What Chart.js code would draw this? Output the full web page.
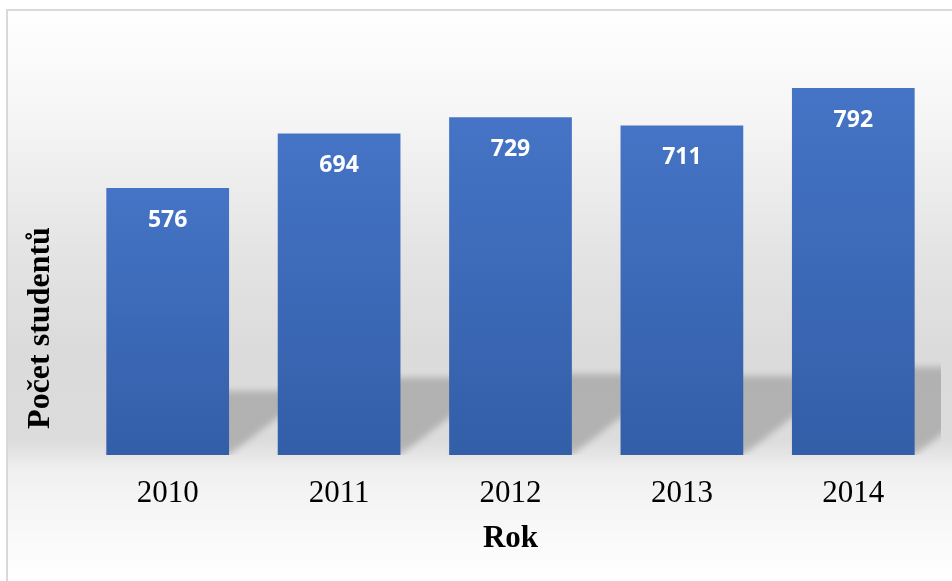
<!DOCTYPE html>
<html><head><meta charset="utf-8">
<script src="https://cdn.jsdelivr.net/npm/chart.js@4/dist/chart.umd.min.js"></script>
<style>html,body{margin:0;padding:0;background:#fff;overflow:hidden}</style>
</head><body>
<canvas id="c" width="952" height="581"></canvas>
<script>
const categories = ['2010', '2011', '2012', '2013', '2014'];
const students = [576, 694, 729, 711, 792];
const xAxisTitle = 'Rok';
const yAxisTitle = 'Počet studentů';
const yRange = [0, 900];

const bgPlugin = {
  id: 'bg',
  beforeDraw(chart) {
    const ctx = chart.ctx;
    ctx.save();
    const g = ctx.createLinearGradient(0, 10, 0, 581);
    const s = (y) => (y - 10) / 571;
    g.addColorStop(0, '#ffffff');
    g.addColorStop(s(120), '#f5f5f5');
    g.addColorStop(s(250), '#e4e4e4');
    g.addColorStop(s(350), '#dbdbdb');
    g.addColorStop(s(440), '#dcdcdc');
    g.addColorStop(s(456), '#e6e6e6');
    g.addColorStop(s(470), '#f0f0f0');
    g.addColorStop(s(520), '#f7f7f7');
    g.addColorStop(1, '#ffffff');
    ctx.fillStyle = g;
    ctx.fillRect(7, 10, 945, 571);
    ctx.fillStyle = '#d9d9d9';
    ctx.fillRect(6, 9, 946, 2);
    ctx.fillRect(6, 9, 2, 572);
    ctx.restore();
  }
};

const shadowPlugin = {
  id: 'barShadow',
  beforeDatasetsDraw(chart) {
    const ctx = chart.ctx;
    const a = chart.chartArea;
    const meta = chart.getDatasetMeta(0);
    ctx.save();
    ctx.beginPath();
    ctx.rect(a.left - 20, 0, a.right - a.left + 22, a.bottom);
    ctx.clip();
    ctx.filter = 'blur(3px)';
    ctx.fillStyle = 'rgba(0,0,0,0.19)';
    meta.data.forEach(bar => {
      const L = bar.x - bar.width / 2, R = bar.x + bar.width / 2;
      const base = bar.base, h = base - bar.y;
      const hs = 0.24 * h, dx = 1.3 * hs;
      ctx.beginPath();
      ctx.moveTo(L, base);
      ctx.lineTo(R, base);
      ctx.lineTo(R + dx, base - hs);
      ctx.lineTo(L + dx, base - hs);
      ctx.closePath();
      ctx.fill();
    });
    ctx.restore();
  }
};

const labelPlugin = {
  id: 'valueLabels',
  afterDatasetsDraw(chart) {
    const ctx = chart.ctx;
    const meta = chart.getDatasetMeta(0);
    ctx.save();
    ctx.fillStyle = '#ffffff';
    ctx.font = 'bold 23px "Open Sans"';
    ctx.textAlign = 'center';
    ctx.textBaseline = 'middle';
    meta.data.forEach((bar, i) => {
      ctx.fillText(String(chart.data.datasets[0].data[i]), bar.x, bar.y + 32);
    });
    ctx.restore();
  }
};

const yTitlePlugin = {
  id: 'yTitle',
  afterDraw(chart) {
    const ctx = chart.ctx;
    ctx.save();
    ctx.translate(41, 328);
    ctx.rotate(-Math.PI / 2);
    ctx.fillStyle = '#000000';
    ctx.font = 'bold 32px "Liberation Serif"';
    ctx.textAlign = 'center';
    ctx.textBaseline = 'middle';
    ctx.fillText(chart.options.scales.y.title.text, 0, 0);
    ctx.restore();
  }
};

new Chart(document.getElementById('c'), {
  type: 'bar',
  data: {
    labels: categories,
    datasets: [{
      data: students,
      barPercentage: 0.716,
      categoryPercentage: 1,
      backgroundColor(ctx) {
        const chart = ctx.chart;
        const ys = chart.scales.y;
        if (!ys || !ctx.parsed) return '#3f69b7';
        const top = ys.getPixelForValue(ctx.parsed.y);
        const base = ys.getPixelForValue(0);
        if (!isFinite(top) || !isFinite(base) || top === base) return '#3f69b7';
        const g = chart.ctx.createLinearGradient(0, top, 0, base);
        g.addColorStop(0, '#4574c6');
        g.addColorStop(1, '#335ea8');
        return g;
      },
      borderWidth: 0
    }]
  },
  options: {
    responsive: false,
    animation: false,
    layout: { padding: { left: 8, top: 38, right: 13, bottom: 23 } },
    plugins: { legend: { display: false }, tooltip: { enabled: false } },
    scales: {
      x: {
        grid: { display: false, drawTicks: false },
        border: { display: false },
        ticks: { color: '#000', font: { family: 'Liberation Serif', size: 31 }, padding: 20 },
        title: { display: true, text: xAxisTitle, color: '#000',
          font: { family: 'Liberation Serif', size: 31, weight: 'bold' }, padding: { top: 0, bottom: 0 } },
        afterFit(scale) { scale.height = 103; }
      },
      y: {
        min: yRange[0], max: yRange[1],
        grid: { display: false, drawTicks: false },
        border: { display: false },
        ticks: { display: false },
        title: { display: false, text: yAxisTitle },
        afterFit(scale) { scale.width = 74; }
      }
    }
  },
  plugins: [bgPlugin, shadowPlugin, labelPlugin, yTitlePlugin]
});
</script>
</body></html>
